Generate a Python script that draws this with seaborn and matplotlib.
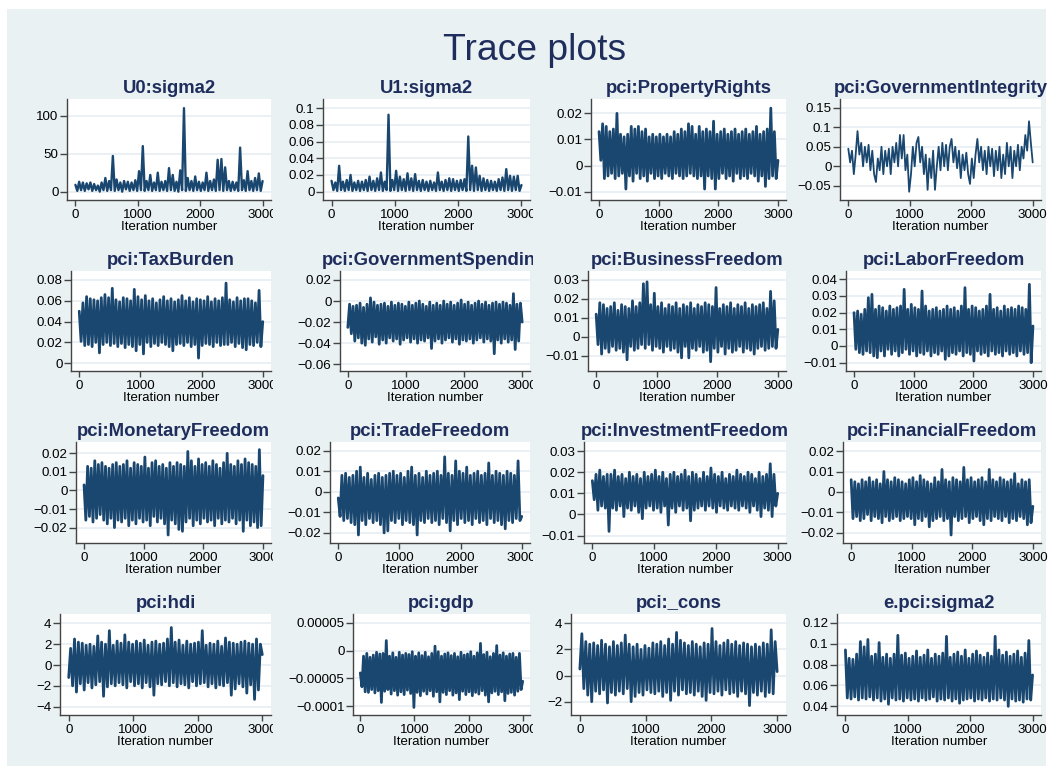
import numpy as np
import pandas as pd
import matplotlib as mpl
mpl.use("Agg")
import matplotlib.pyplot as plt
from matplotlib.patches import Rectangle
from matplotlib.transforms import Bbox, TransformedBbox
import seaborn as sns

# MCMC iteration numbers (draws read every 30 iterations off the picture)
iterations = list(range(0, 3001, 30))

u0_sigma2 = [9, 1, 13, 2, 12, 1, 11, 3, 12, 1,
             10, 2, 8, 0, 12, 2, 18, 1, 14, 2,
             47, 1, 16, 2, 12, 0, 14, 3, 13, 1,
             12, 2, 15, 1, 27, 2, 60, 1, 14, 2,
             22, 1, 12, 2, 25, 1, 13, 2, 14, 1,
             31, 2, 22, 1, 13, 0, 28, 2, 110, 1,
             18, 2, 14, 1, 20, 2, 13, 1, 12, 2,
             25, 1, 14, 2, 16, 1, 42, 2, 43, 1,
             32, 2, 14, 1, 13, 2, 12, 1, 58, 2,
             15, 1, 27, 2, 14, 1, 18, 2, 24, 1,
             14]

u1_sigma2 = [0.013, 0.002, 0.011, 0.001, 0.031, 0.002, 0.012, 0.001, 0.014, 0.002,
             0.02, 0.001, 0.011, 0.002, 0.013, 0.001, 0.012, 0.002, 0.014, 0.001,
             0.018, 0.002, 0.013, 0.001, 0.016, 0.002, 0.023, 0.001, 0.012, 0.002,
             0.092, 0.001, 0.014, 0.002, 0.025, 0.001, 0.018, 0.002, 0.015, 0.001,
             0.022, 0.002, 0.016, 0.001, 0.021, 0.002, 0.013, 0.001, 0.014, 0.002,
             0.012, 0.001, 0.013, 0.002, 0.011, 0.001, 0.023, 0.002, 0.012, 0.001,
             0.014, 0.002, 0.016, 0.001, 0.015, 0.002, 0.013, 0.001, 0.014, 0.002,
             0.015, 0.001, 0.066, 0.002, 0.031, 0.001, 0.029, 0.002, 0.019, 0.001,
             0.016, 0.002, 0.014, 0.001, 0.013, 0.002, 0.012, 0.001, 0.015, 0.002,
             0.017, 0.001, 0.027, 0.002, 0.019, 0.001, 0.018, 0.002, 0.019, 0.001,
             0.008]

property_rights = [0.013, 0.002, 0.016, -0.005, 0.015, -0.004, 0.013, -0.003, 0.014, -0.005,
                   0.020, -0.004, 0.012, -0.003, 0.011, -0.009, 0.012, -0.004, 0.015, -0.006,
                   0.014, -0.003, 0.015, -0.005, 0.013, -0.004, 0.014, -0.006, 0.011, -0.003,
                   0.012, -0.005, 0.011, -0.004, 0.012, -0.005, 0.011, -0.003, 0.012, -0.004,
                   0.011, -0.005, 0.013, -0.003, 0.012, -0.004, 0.014, -0.005, 0.013, -0.004,
                   0.016, -0.003, 0.015, -0.004, 0.012, -0.005, 0.015, -0.004, 0.013, -0.009,
                   0.014, -0.004, 0.013, -0.005, 0.017, -0.009, 0.012, -0.005, 0.013, -0.003,
                   0.014, -0.005, 0.012, -0.004, 0.013, -0.006, 0.014, -0.003, 0.012, -0.005,
                   0.013, -0.004, 0.014, -0.005, 0.012, -0.003, 0.013, -0.004, 0.015, -0.006,
                   0.012, -0.004, 0.013, -0.008, 0.014, -0.005, 0.022, -0.004, 0.013, -0.005,
                   0.002]

government_integrity = [0.045, 0.01, 0.04, -0.02, 0.03, 0.09, 0.03, 0.06, 0.0, 0.05,
                        0.01, 0.055, -0.01, 0.04, -0.02, -0.04, 0.02, -0.01, 0.05, -0.02,
                        0.04, 0.0, 0.045, -0.02, 0.05, 0.01, 0.06, 0.0, 0.08, 0.02,
                        0.08, -0.01, 0.03, -0.065, -0.02, 0.05, 0.0, 0.06, 0.075, 0.01,
                        0.05, -0.02, 0.03, -0.06, 0.02, -0.03, 0.04, -0.06, 0.0, 0.05,
                        -0.01, 0.06, 0.0, 0.055, -0.01, 0.05, 0.07, 0.01, 0.05, -0.005,
                        0.04, -0.03, 0.03, -0.01, 0.035, -0.02, -0.045, 0.02, -0.03, 0.03,
                        0.07, 0.01, 0.05, -0.01, 0.04, -0.02, 0.05, 0.0, 0.045, -0.025,
                        0.04, -0.01, 0.05, -0.03, 0.03, -0.02, 0.06, 0.0, 0.05, -0.03,
                        0.04, 0.0, 0.055, -0.01, 0.05, 0.02, 0.08, 0.04, 0.115, 0.06,
                        0.01]

tax_burden = [0.05, 0.021, 0.058, 0.017, 0.064, 0.018, 0.062, 0.016, 0.061, 0.02,
              0.06, 0.01, 0.063, 0.018, 0.066, 0.02, 0.063, 0.017, 0.072, 0.019,
              0.061, 0.016, 0.059, 0.019, 0.063, 0.015, 0.062, 0.018, 0.06, 0.016,
              0.071, 0.012, 0.064, 0.018, 0.061, 0.009, 0.065, 0.02, 0.06, 0.016,
              0.062, 0.019, 0.058, 0.017, 0.061, 0.02, 0.064, 0.018, 0.06, 0.016,
              0.062, 0.012, 0.059, 0.018, 0.061, 0.019, 0.065, 0.017, 0.06, 0.02,
              0.063, 0.016, 0.059, 0.018, 0.062, 0.005, 0.061, 0.017, 0.06, 0.019,
              0.064, 0.018, 0.059, 0.016, 0.062, 0.02, 0.06, 0.017, 0.063, 0.018,
              0.077, 0.018, 0.061, 0.02, 0.059, 0.016, 0.063, 0.019, 0.06, 0.015,
              0.062, 0.013, 0.062, 0.018, 0.06, 0.017, 0.058, 0.02, 0.07, 0.016,
              0.04]

government_spending = [-0.025, -0.003, -0.031, -0.005, -0.038, -0.004, -0.035, -0.002, -0.04, -0.006,
                       -0.042, -0.003, -0.036, 0.003, -0.039, -0.001, -0.034, -0.004, -0.041, -0.003,
                       -0.037, -0.002, -0.04, -0.005, -0.035, -0.001, -0.038, -0.004, -0.036, -0.002,
                       -0.041, -0.003, -0.037, -0.005, -0.035, -0.001, -0.039, -0.004, -0.036, -0.002,
                       -0.04, 0.0, -0.037, -0.003, -0.038, -0.005, -0.035, -0.001, -0.045, -0.004,
                       -0.038, -0.002, -0.036, -0.004, -0.04, 0.0, -0.037, -0.003, -0.035, -0.001,
                       -0.039, -0.004, -0.036, -0.002, -0.041, 0.001, -0.037, -0.003, -0.038, -0.001,
                       -0.036, -0.004, -0.04, -0.002, -0.037, 0.0, -0.035, -0.003, -0.039, -0.001,
                       -0.036, -0.004, -0.038, -0.002, -0.05, -0.001, -0.037, -0.003, -0.04, -0.001,
                       -0.036, -0.002, -0.039, -0.004, -0.037, 0.007, -0.046, -0.003, -0.038, -0.002,
                       -0.02]

business_freedom = [0.012, -0.004, 0.018, -0.009, 0.017, -0.006, 0.015, -0.008, 0.016, -0.005,
                    0.018, -0.007, 0.014, -0.006, 0.017, -0.008, 0.016, -0.012, 0.015, -0.005,
                    0.019, -0.007, 0.016, -0.006, 0.018, -0.004, 0.028, -0.006, 0.029, -0.004,
                    0.017, -0.007, 0.023, -0.005, 0.016, -0.006, 0.018, -0.008, 0.015, -0.005,
                    0.017, -0.007, 0.016, -0.006, 0.018, -0.008, 0.015, -0.011, 0.017, -0.005,
                    0.016, -0.011, 0.018, -0.006, 0.015, -0.007, 0.017, -0.005, 0.016, -0.008,
                    0.018, -0.007, 0.017, -0.013, 0.016, -0.006, 0.026, -0.008, 0.015, -0.005,
                    0.017, -0.009, 0.016, -0.006, 0.018, -0.008, 0.015, -0.007, 0.017, -0.005,
                    0.016, -0.008, 0.018, -0.006, 0.015, -0.007, 0.017, -0.009, 0.016, -0.006,
                    0.017, -0.005, 0.018, -0.007, 0.015, -0.006, 0.024, -0.005, 0.019, -0.006,
                    0.004]

labor_freedom = [0.02, -0.002, 0.021, -0.004, 0.019, -0.005, 0.022, -0.003, 0.029, -0.004,
                 0.031, -0.006, 0.022, -0.007, 0.024, -0.003, 0.023, -0.006, 0.021, -0.002,
                 0.024, -0.005, 0.022, -0.003, 0.023, -0.006, 0.024, -0.004, 0.034, -0.002,
                 0.022, -0.005, 0.025, -0.003, 0.023, -0.006, 0.022, -0.004, 0.033, -0.005,
                 0.024, -0.003, 0.021, -0.006, 0.022, -0.004, 0.023, -0.005, 0.021, -0.003,
                 0.022, -0.008, 0.024, -0.006, 0.022, -0.004, 0.023, -0.005, 0.021, -0.003,
                 0.024, -0.006, 0.035, -0.004, 0.022, -0.005, 0.024, -0.009, 0.023, -0.003,
                 0.021, -0.005, 0.022, -0.004, 0.024, -0.006, 0.031, -0.003, 0.022, -0.005,
                 0.023, -0.004, 0.021, -0.006, 0.024, -0.003, 0.022, -0.005, 0.023, -0.004,
                 0.022, -0.006, 0.024, -0.003, 0.023, -0.005, 0.022, -0.004, 0.037, -0.01,
                 0.012]

monetary_freedom = [0.003, -0.016, 0.013, -0.014, 0.012, -0.017, 0.016, -0.015, 0.014, -0.013,
                    0.015, -0.016, 0.013, -0.018, 0.012, -0.015, 0.014, -0.02, 0.015, -0.016,
                    0.013, -0.017, 0.014, -0.015, 0.016, -0.019, 0.012, -0.016, 0.015, -0.018,
                    0.014, -0.015, 0.013, -0.017, 0.018, -0.016, 0.012, -0.019, 0.015, -0.014,
                    0.016, -0.017, 0.013, -0.015, 0.014, -0.018, 0.012, -0.024, 0.015, -0.016,
                    0.013, -0.018, 0.015, -0.021, 0.014, -0.022, 0.013, -0.017, 0.021, -0.015,
                    0.016, -0.019, 0.013, -0.016, 0.017, -0.018, 0.014, -0.015, 0.015, -0.017,
                    0.013, -0.016, 0.016, -0.019, 0.014, -0.015, 0.012, -0.018, 0.015, -0.016,
                    0.02, -0.017, 0.014, -0.015, 0.013, -0.018, 0.016, -0.016, 0.014, -0.022,
                    0.017, -0.016, 0.015, -0.019, 0.014, -0.017, 0.013, -0.02, 0.022, -0.019,
                    0.008]

trade_freedom = [-0.003, -0.012, 0.008, -0.014, 0.009, -0.013, 0.007, -0.015, 0.008, -0.016,
                 0.01, -0.021, 0.012, -0.014, 0.007, -0.016, 0.009, -0.013, 0.006, -0.015,
                 0.008, -0.014, 0.009, -0.016, 0.007, -0.02, 0.008, -0.019, 0.009, -0.014,
                 0.01, -0.015, 0.008, -0.013, 0.009, -0.016, 0.007, -0.014, 0.01, -0.015,
                 0.012, -0.016, 0.008, -0.021, 0.009, -0.014, 0.007, -0.015, 0.01, -0.013,
                 0.008, -0.015, 0.009, -0.014, 0.01, -0.016, 0.008, -0.013, 0.017, -0.015,
                 0.009, -0.019, 0.008, -0.014, 0.015, -0.016, 0.01, -0.013, 0.009, -0.015,
                 0.012, -0.014, 0.008, -0.016, 0.009, -0.013, 0.01, -0.015, 0.008, -0.014,
                 0.009, -0.016, 0.014, -0.013, 0.008, -0.015, 0.01, -0.014, 0.009, -0.016,
                 0.008, -0.018, 0.01, -0.014, 0.009, -0.015, 0.008, -0.013, 0.015, -0.014,
                 -0.012]

investment_freedom = [0.016, 0.007, 0.019, 0.002, 0.021, 0.004, 0.018, 0.003, 0.019, -0.008,
                      0.019, 0.003, 0.021, 0.002, 0.018, 0.004, 0.019, -0.001, 0.017, 0.003,
                      0.02, 0.002, 0.018, 0.004, 0.019, 0.001, 0.017, -0.002, 0.02, 0.003,
                      0.018, 0.004, 0.019, 0.002, 0.021, 0.003, 0.018, 0.001, 0.02, 0.004,
                      0.017, -0.005, 0.019, 0.003, 0.02, 0.001, 0.018, 0.004, 0.019, 0.002,
                      0.021, 0.003, 0.018, -0.003, 0.02, 0.002, 0.019, 0.003, 0.017, 0.004,
                      0.02, 0.002, 0.018, 0.004, 0.022, 0.003, 0.019, 0.001, 0.018, 0.004,
                      0.02, 0.003, 0.017, 0.002, 0.019, 0.004, 0.018, 0.003, 0.021, 0.002,
                      0.019, 0.004, 0.018, 0.003, 0.02, 0.001, 0.019, 0.004, 0.017, 0.002,
                      0.02, -0.001, 0.018, 0.003, 0.019, 0.002, 0.024, -0.001, 0.019, 0.004,
                      0.01]

financial_freedom = [0.006, -0.013, 0.005, -0.012, 0.004, -0.014, 0.006, -0.013, 0.005, -0.011,
                     0.007, -0.014, 0.005, -0.012, 0.006, -0.013, 0.004, -0.015, 0.01, -0.012,
                     0.006, -0.014, 0.005, -0.013, 0.007, -0.012, 0.006, -0.014, 0.005, -0.013,
                     0.004, -0.012, 0.006, -0.013, 0.007, -0.016, 0.005, -0.013, 0.008, -0.014,
                     0.006, -0.012, 0.005, -0.017, 0.004, -0.014, 0.007, -0.013, 0.005, -0.012,
                     0.011, -0.014, 0.006, -0.013, 0.005, -0.021, 0.007, -0.012, 0.006, -0.014,
                     0.005, -0.013, 0.012, -0.012, 0.006, -0.015, 0.007, -0.013, 0.005, -0.012,
                     0.006, -0.014, 0.007, -0.016, 0.005, -0.013, 0.011, -0.014, 0.006, -0.012,
                     0.005, -0.013, 0.007, -0.014, 0.006, -0.012, 0.005, -0.015, 0.006, -0.013,
                     0.009, -0.014, 0.004, -0.012, 0.006, -0.013, 0.005, -0.016, 0.006, -0.015,
                     -0.007]

hdi = [-1.2, 1.6, -2.0, 2.5, -2.6, 2.2, -1.8, 2.1, -2.4, 1.9,
       -1.7, 2.0, -2.2, 1.8, -1.9, 2.8, -1.6, 2.2, -3.0, 2.0,
       -2.1, 3.3, -1.8, 1.9, -2.0, 2.3, -1.7, 2.1, -1.9, 2.9,
       -2.2, 2.2, -1.6, 2.0, -2.0, 2.3, -1.8, 2.1, -2.2, 2.4,
       -1.7, 1.9, -2.1, 2.2, -2.9, 2.3, -1.8, 2.0, -1.9, 2.1,
       -1.6, 2.5, -2.0, 3.6, -1.7, 2.2, -2.1, 2.4, -1.8, 1.9,
       -1.9, 2.3, -2.2, 2.0, -1.6, 2.1, -2.0, 2.2, -1.8, 3.3,
       -1.7, 1.9, -2.1, 2.1, -1.8, 2.0, -2.2, 2.3, -1.9, 1.8,
       -2.0, 2.6, -1.7, 2.2, -2.9, 2.1, -2.3, 2.0, -1.8, 2.2,
       -2.1, 2.3, -2.7, 2.1, -1.9, 2.0, -3.3, 2.5, -2.4, 2.0,
       1.0]

gdp = [-4.0e-5, -6.5e-5, -1.0e-5, -7.4e-5, -0.5e-5, -7.5e-5, -1.2e-5, -7.0e-5, -0.8e-5, -7.6e-5,
       -0.3e-5, -7.2e-5, -0.6e-5, -9.3e-5, -0.5e-5, -7.3e-5, 1.8e-5, -7.0e-5, -1.0e-5, -7.8e-5,
       -0.4e-5, -7.2e-5, -1.2e-5, -8.0e-5, -0.3e-5, -7.4e-5, -0.8e-5, -7.9e-5, -0.5e-5, -7.1e-5,
       -0.7e-5, -7.7e-5, -0.2e-5, -10.2e-5, -1.0e-5, -7.5e-5, -0.4e-5, -8.1e-5, -0.9e-5, -7.3e-5,
       -0.3e-5, -7.8e-5, -1.1e-5, -7.2e-5, -0.5e-5, -8.2e-5, 0.8e-5, -7.4e-5, -0.2e-5, -9.2e-5,
       -1.0e-5, -7.5e-5, -0.6e-5, -7.9e-5, -0.4e-5, -7.2e-5, -0.9e-5, -8.0e-5, -0.5e-5, -7.6e-5,
       -1.1e-5, -8.8e-5, -0.3e-5, -7.3e-5, -0.8e-5, -7.9e-5, -0.6e-5, -7.4e-5, -0.2e-5, -8.1e-5,
       -1.0e-5, -7.5e-5, -0.4e-5, -7.8e-5, 1.3e-5, -7.2e-5, -0.7e-5, -8.0e-5, -0.3e-5, -9.2e-5,
       -1.1e-5, -7.6e-5, -0.5e-5, -7.3e-5, 0.9e-5, -7.9e-5, -0.8e-5, -7.4e-5, -0.4e-5, -9.0e-5,
       -1.0e-5, -7.7e-5, -0.6e-5, -7.5e-5, -0.5e-5, -8.0e-5, -1.2e-5, -7.3e-5, -0.5e-5, -7.0e-5,
       -5.5e-5]

cons = [0.5, 3.2, -1.0, 2.6, -1.5, 2.4, -2.0, 2.5, -1.2, 2.3,
        -1.4, 2.7, -1.1, 2.4, -2.1, 2.2, -1.3, 2.6, -1.5, 2.3,
        -1.2, 2.5, -1.4, 3.1, -1.0, 2.4, -2.0, 2.2, -1.6, 2.4,
        -1.3, 2.0, -1.5, 2.3, -1.1, 2.1, -1.3, 2.5, -1.4, 2.4,
        -1.2, 2.6, -1.6, 2.3, -1.3, 2.8, -1.9, 2.4, -1.2, 3.3,
        -1.5, 2.7, -1.1, 2.5, -1.4, 2.3, -1.3, 2.6, -1.5, 2.4,
        -1.2, 2.2, -1.6, 2.5, -1.9, 2.4, -1.3, 3.6, -1.4, 2.6,
        -1.2, 2.3, -1.5, 2.5, -1.1, 2.7, -1.4, 2.4, -1.3, 2.6,
        -1.6, 2.3, -1.2, 2.5, -1.4, 2.4, -2.3, 2.2, -1.3, 2.4,
        -1.5, 2.2, -1.2, 2.5, -1.6, 2.4, -1.3, 3.5, -1.4, 2.6,
        0.3]

e_sigma2 = [0.094, 0.048, 0.086, 0.047, 0.085, 0.049, 0.09, 0.046, 0.102, 0.048,
            0.097, 0.047, 0.104, 0.049, 0.088, 0.046, 0.09, 0.048, 0.101, 0.045,
            0.087, 0.047, 0.09, 0.042, 0.086, 0.048, 0.09, 0.046, 0.108, 0.047,
            0.089, 0.045, 0.091, 0.048, 0.086, 0.046, 0.088, 0.047, 0.093, 0.045,
            0.087, 0.048, 0.089, 0.046, 0.094, 0.047, 0.086, 0.049, 0.09, 0.045,
            0.088, 0.047, 0.091, 0.046, 0.107, 0.048, 0.087, 0.045, 0.09, 0.047,
            0.092, 0.043, 0.088, 0.046, 0.094, 0.047, 0.086, 0.048, 0.09, 0.045,
            0.093, 0.047, 0.089, 0.046, 0.087, 0.048, 0.091, 0.045, 0.088, 0.047,
            0.107, 0.046, 0.094, 0.048, 0.089, 0.046, 0.092, 0.04, 0.088, 0.047,
            0.09, 0.045, 0.093, 0.046, 0.087, 0.044, 0.091, 0.047, 0.103, 0.046,
            0.07]

panel_names = ["U0:sigma2", "U1:sigma2", "pci:PropertyRights", "pci:GovernmentIntegrity",
               "pci:TaxBurden", "pci:GovernmentSpending", "pci:BusinessFreedom", "pci:LaborFreedom",
               "pci:MonetaryFreedom", "pci:TradeFreedom", "pci:InvestmentFreedom", "pci:FinancialFreedom",
               "pci:hdi", "pci:gdp", "pci:_cons", "e.pci:sigma2"]
panel_series = [u0_sigma2, u1_sigma2, property_rights, government_integrity,
                tax_burden, government_spending, business_freedom, labor_freedom,
                monetary_freedom, trade_freedom, investment_freedom, financial_freedom,
                hdi, gdp, cons, e_sigma2]

panel_yticks = [[0, 50, 100], [0, 0.02, 0.04, 0.06, 0.08, 0.1],
                [-0.01, 0, 0.01, 0.02], [-0.05, 0, 0.05, 0.1, 0.15],
                [0, 0.02, 0.04, 0.06, 0.08], [-0.06, -0.04, -0.02, 0, 0.02],
                [-0.01, 0, 0.01, 0.02, 0.03], [-0.01, 0, 0.01, 0.02, 0.03, 0.04],
                [-0.02, -0.01, 0, 0.01, 0.02], [-0.02, -0.01, 0, 0.01, 0.02],
                [-0.01, 0, 0.01, 0.02, 0.03], [-0.02, -0.01, 0, 0.01, 0.02],
                [-4, -2, 0, 2, 4], [-0.0001, -0.00005, 0, 0.00005],
                [-2, 0, 2, 4], [0.04, 0.06, 0.08, 0.1, 0.12]]
panel_ytick_labels = [["0", "50", "100"], ["0", "0.02", "0.04", "0.06", "0.08", "0.1"],
                      ["\u22120.01", "0", "0.01", "0.02"], ["\u22120.05", "0", "0.05", "0.1", "0.15"],
                      ["0", "0.02", "0.04", "0.06", "0.08"], ["\u22120.06", "\u22120.04", "\u22120.02", "0", "0.02"],
                      ["\u22120.01", "0", "0.01", "0.02", "0.03"], ["\u22120.01", "0", "0.01", "0.02", "0.03", "0.04"],
                      ["\u22120.02", "\u22120.01", "0", "0.01", "0.02"], ["\u22120.02", "\u22120.01", "0", "0.01", "0.02"],
                      ["\u22120.01", "0", "0.01", "0.02", "0.03"], ["\u22120.02", "\u22120.01", "0", "0.01", "0.02"],
                      ["\u22124", "\u22122", "0", "2", "4"], ["\u22120.0001", "\u22120.00005", "0", "0.00005"],
                      ["\u22122", "0", "2", "4"], ["0.04", "0.06", "0.08", "0.1", "0.12"]]
xticks = [0, 1000, 2000, 3000]
xtick_labels = ["0", "1000", "2000", "3000"]

# layout (pixels), axis ranges, line widths
W, H = 1053, 769
row_tb = [(99, 200), (271, 371), (442, 543), (614, 715)]
col_right = [271, 530, 786, 1041]
panel_left = [67, 323, 591, 840,
              71, 340, 588, 846,
              76, 330, 584, 843,
              60, 353, 571, 837]
col_clip = [(0, 273), (276, 533), (539, 793), (795, 1053)]
panel_ylim = [(-11, 122), (-0.0099, 0.1108), (-0.0132, 0.0255), (-0.086, 0.172),
              (-0.0074, 0.0886), (-0.0664, 0.0285), (-0.0179, 0.0347), (-0.015, 0.045),
              (-0.0283, 0.0261), (-0.0249, 0.0242), (-0.0135, 0.0343), (-0.0249, 0.0244),
              (-4.8, 4.9), (-0.0001156, 0.0000657), (-3.02, 4.71), (0.0317, 0.1284)]
panel_lw = [1.7, 1.7, 2.0, 1.3,
            2.0, 2.0, 2.0, 2.0,
            2.0, 2.0, 2.0, 2.0,
            2.0, 2.0, 2.0, 2.0]

line_c = "#1a476f"
title_c = "#1e2d5c"
bg_c = "#e9f1f3"
grid_c = "#e6eef1"
axis_c = "#444444"

sns.set_theme(style="white")
plt.rcParams['font.family'] = ['Liberation Sans', 'DejaVu Sans']

fig = plt.figure(figsize=(W / 100, H / 100), dpi=100, facecolor="white")
fig.add_artist(Rectangle((7 / W, 1 - 766 / H), (1046 - 7) / W, (766 - 9) / H,
                         transform=fig.transFigure, facecolor=bg_c, edgecolor="none", zorder=-5))

fig.text(535 / W, 1 - 60 / H, "Trace plots", ha="center", va="baseline",
         fontsize=26.8, color=title_c)

for k in range(16):
    r, c = divmod(k, 4)
    top, bot = row_tb[r]
    left, right = panel_left[k], col_right[c]
    ax = fig.add_axes([left / W, 1 - bot / H, (right - left) / W, (bot - top) / H])
    ax.set_facecolor("white")

    df = pd.DataFrame({"iteration": iterations, "value": panel_series[k]})
    sns.lineplot(data=df, x="iteration", y="value", ax=ax, color=line_c,
                 linewidth=panel_lw[k], estimator=None, sort=False)

    ax.set_xlim(-135, 3135)
    ax.set_ylim(*panel_ylim[k])
    ax.set_xticks(xticks)
    ax.set_xticklabels(xtick_labels)
    ax.set_yticks(panel_yticks[k])
    ax.set_yticklabels(panel_ytick_labels[k])
    ax.yaxis.grid(True, color=grid_c, linewidth=1.2)
    ax.xaxis.grid(False)
    ax.set_axisbelow(True)

    for s in ["top", "right"]:
        ax.spines[s].set_visible(False)
    for s in ["left", "bottom"]:
        ax.spines[s].set_color(axis_c)
        ax.spines[s].set_linewidth(1.0)

    ax.tick_params(axis="y", left=True, length=5, width=1, color=axis_c,
                   pad=1.2, labelsize=9.6, labelcolor="black", direction="out")
    ax.tick_params(axis="x", bottom=True, length=4, width=1, color=axis_c,
                   pad=2.2, labelsize=9.6, labelcolor="black", direction="out")
    ax.set_xlabel("Iteration number", fontsize=9.5, labelpad=0.3, color="black")
    ax.set_ylabel("")
    ax.set_title(panel_names[k], fontsize=13.3, fontweight="bold", color=title_c, pad=4)

    # Stata clips text at the edge of each graph cell
    cx0, cx1 = col_clip[c]
    clip = TransformedBbox(Bbox([[cx0 / W, 0], [cx1 / W, 1]]), fig.transFigure)
    for t in ax.get_xticklabels() + [ax.title]:
        t.set_clip_box(clip)
        t.set_clip_on(True)

fig.savefig("out.png", dpi=100, facecolor="white")
